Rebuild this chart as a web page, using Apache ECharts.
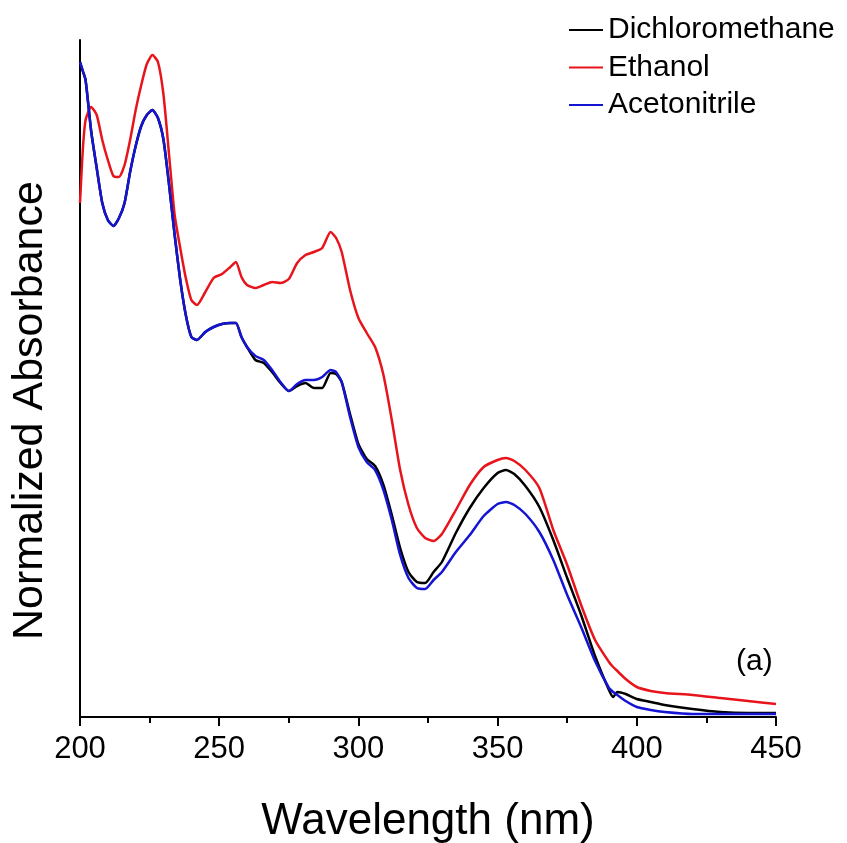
<!DOCTYPE html>
<html>
<head>
<meta charset="utf-8">
<script src="https://cdn.jsdelivr.net/npm/echarts@6/dist/echarts.min.js"></script>
<style>
html,body{margin:0;padding:0;background:#fff;}
#chart{width:847px;height:843px;}
</style>
</head>
<body>
<div id="chart"></div>
<script>
// Wavelength (nm)
const wavelengths = [200,201,202,204,206,208,210,212,214,216,218,220,222,224,226,228,230,232,234,236,238,240,242,245,248,251,254,256,258,260,263,266,269,272,275,278,281,284,287,290,292,294,297,300,303,306,309,312,315,318,321,324,327,330,335,340,345,350,353,356,360,365,370,375,380,385,390,391.5,393,396,400,405,410,420,430,440,450];

// Normalized absorbance (arbitrary units, axis 0..677)
const acetonitrile = [655,646,637,586,549,514,497,491,499,514,545,571,591,602,607,599,577,532,482,437,402,380,377,385,390,393,394,394,380,370,361,357,347,335,326,333,337,337,340,347,345,335,300,270,255,247,227,197,162,139,129,128,137,145,165,182,201,213,215,212,203,185,157,122,90,56,29,25,22,16,10,7,5,3,3,3,3];

const dichloromethane = [655,646,637,586,549,514,497,491,499,514,545,571,591,602,607,599,577,532,482,437,402,380,377,385,390,393,394,394,380,370,357,354,345,334,326,331,334,329,329,344,343,335,303,273,258,251,232,202,169,145,135,134,145,155,184,209,229,244,247,243,231,210,177,139,102,61,27,20,25,23,18,15,12,8,5,4,4];

const ethanol = [514,567,597,610,602,577,557,541,540,552,577,607,632,653,662,655,622,562,502,469,439,417,412,425,439,443,450,455,440,432,429,432,435,434,438,454,462,465,469,485,479,465,427,399,384,370,342,297,247,212,189,179,176,183,207,232,250,257,259,256,247,229,187,152,112,77,55,50,46,38,30,26,24,22,19,16,13];

const seriesNames = ['Dichloromethane','Ethanol','Acetonitrile'];
const seriesColors = ['#000000','#e8141c','#1414d2'];
const xTicks = {min:200, max:450, interval:50};

function pairs(arr){ return wavelengths.map((w,i)=>[w,arr[i]]); }

const chart = echarts.init(document.getElementById('chart'), null, {renderer:'canvas'});
const font = 'Liberation Sans, Arial, sans-serif';
const seriesData = [dichloromethane, ethanol, acetonitrile];

chart.setOption({
  animation:false,
  backgroundColor:'#ffffff',
  grid:{left:80, right:71, top:40, bottom:126, containLabel:false, outerBoundsMode:'none'},
  legend:{
    orient:'vertical', left:564, top:10,
    itemWidth:34, itemHeight:2, itemGap:7.5,
    icon:'rect',
    textStyle:{fontFamily:font, fontSize:30, color:'#000', padding:[0,0,0,0]},
    data:seriesNames
  },
  xAxis:{
    type:'value', min:xTicks.min, max:xTicks.max, interval:xTicks.interval,
    name:'Wavelength (nm)', nameLocation:'middle', nameGap:83,
    nameTextStyle:{fontFamily:font, fontSize:44, color:'#000'},
    axisLine:{show:true, onZero:false, lineStyle:{color:'#000', width:2}},
    axisTick:{show:true, inside:false, length:9, lineStyle:{color:'#000', width:2}},
    minorTick:{show:true, splitNumber:2, length:6, lineStyle:{color:'#000', width:2}},
    axisLabel:{fontFamily:font, fontSize:31, color:'#000', margin:17},
    splitLine:{show:false}
  },
  yAxis:{
    type:'value', min:0, max:677,
    name:'Normalized Absorbance', nameLocation:'middle', nameGap:28,
    nameTextStyle:{fontFamily:font, fontSize:43, color:'#000', padding:[0,64,0,0]},
    axisLine:{show:true, onZero:false, lineStyle:{color:'#000', width:2}},
    axisTick:{show:false}, axisLabel:{show:false}, splitLine:{show:false}
  },
  graphic:[{
    type:'text', left:736, top:647,
    style:{text:'(a)', font:'30px Liberation Sans, Arial, sans-serif', fill:'#000'}
  }],
  series: seriesNames.map((n,i)=>({
    name:n, type:'line', data:pairs(seriesData[i]),
    showSymbol:false, symbol:'none', smooth:0.2,
    lineStyle:{color:seriesColors[i], width:2.5},
    itemStyle:{color:seriesColors[i]},
    z: i===0 ? 2 : (i===2 ? 3 : 1)
  }))
});
</script>
</body>
</html>
